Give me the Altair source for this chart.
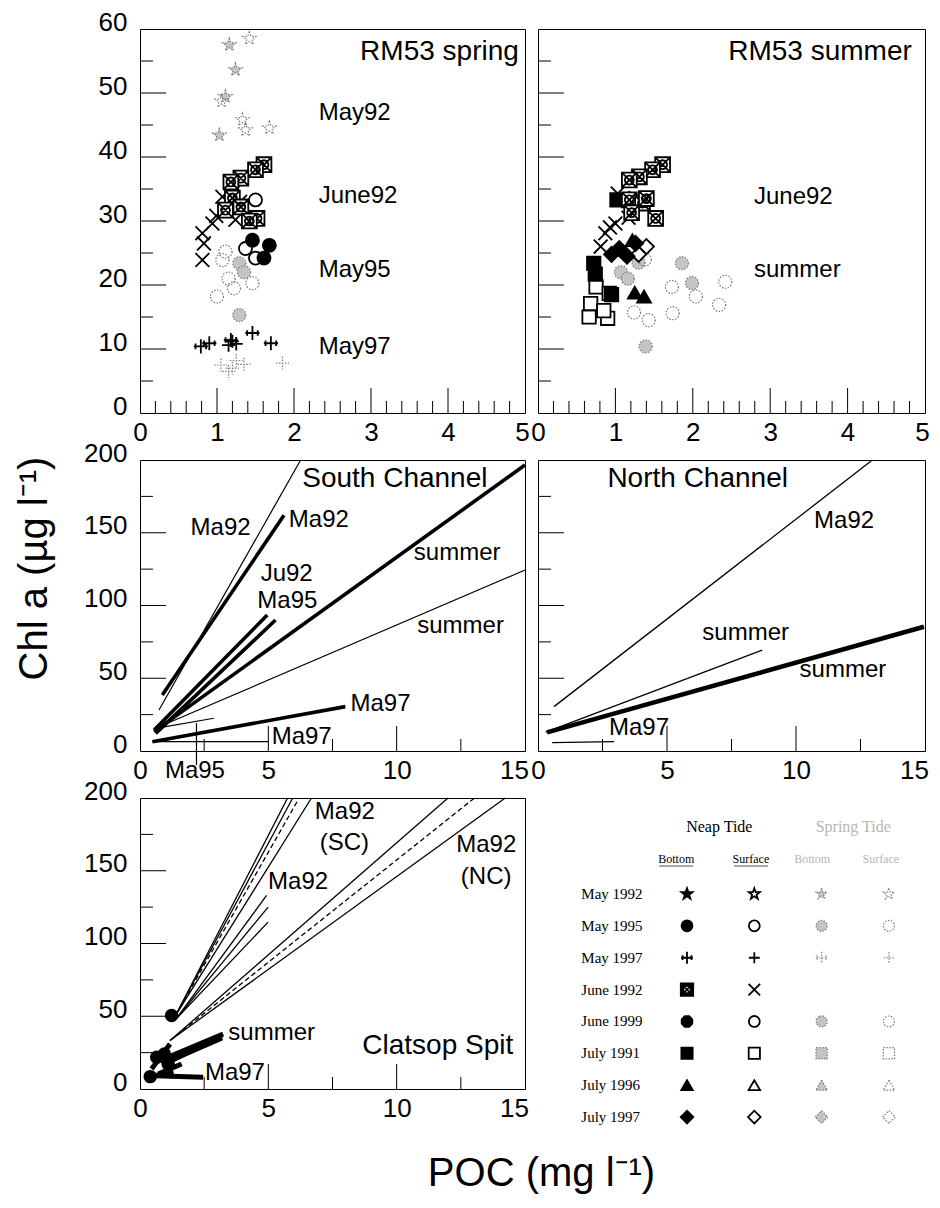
import altair as alt
import pandas as pd

FONT = "Liberation Sans"
SERIF = "Liberation Serif"

# ---------------- axes ----------------
TOP_X_DOMAIN = [0, 5]
TOP_Y_DOMAIN = [0, 60]
MID_X_DOMAIN = [0, 15]
MID_Y_DOMAIN = [0, 200]

TOP_X_LABELS = [0, 1, 2, 3, 4, 5]
TOP_Y_LABELS = [0, 10, 20, 30, 40, 50, 60]
MID_X_LABELS = [0, 5, 10, 15]
MID_Y_LABELS = [0, 50, 100, 150, 200]

TOP_X_MAJOR = [1, 2, 3, 4]
TOP_X_MINOR = [0.2, 0.4, 0.6, 0.8, 1.2, 1.4, 1.6, 1.8, 2.2, 2.4, 2.6, 2.8,
               3.2, 3.4, 3.6, 3.8, 4.2, 4.4, 4.6, 4.8]
TOP_Y_MAJOR = [10, 20, 30, 40, 50]
TOP_Y_MINOR = [5, 15, 25, 35, 45, 55]
MID_X_MAJOR = [5, 10]
MID_X_MINOR = [2.5, 7.5, 12.5]
MID_Y_MAJOR = [50, 100, 150]
MID_Y_MINOR = [25, 75, 125, 175]

# ---------------- RM53 spring (top-left) ----------------
SPR_JUN92_BOT = [(1.61, 38.8), (1.50, 38.0), (1.31, 36.7), (1.18, 36.1), (1.20, 33.6),
                 (1.31, 32.2), (1.11, 31.7), (1.52, 30.4), (1.42, 30.0)]
SPR_JUN92_SUR = [(0.81, 23.9), (0.83, 26.5), (0.81, 28.1), (0.94, 29.6), (0.99, 30.8),
                 (1.07, 33.8), (1.21, 34.5), (1.24, 30.2), (1.42, 29.9), (1.30, 33.0)]
SPR_MAY95_BOT = [(1.46, 27.0), (1.68, 26.2), (1.61, 24.2)]
SPR_MAY95_SUR = [(1.50, 33.3), (1.37, 25.7), (1.50, 24.2)]
SPR_MAY97_BOT = [(0.79, 10.4), (0.90, 10.9), (1.18, 11.4), (1.46, 12.5), (1.70, 10.9)]
SPR_MAY97_SUR = [(1.20, 11.2), (1.25, 10.8), (1.15, 10.6)]
SPR_MAY92_SPRING_BOT = [(1.16, 57.5), (1.24, 53.6), (1.11, 49.4), (1.03, 43.4)]
SPR_MAY92_SPRING_SUR = [(1.42, 58.5), (1.06, 48.7), (1.33, 45.8), (1.68, 44.5), (1.37, 44.2)]
SPR_MAY95_SPRING_BOT = [(1.29, 23.4), (1.29, 15.3), (1.35, 22.0)]
SPR_MAY95_SPRING_SUR = [(1.11, 25.2), (1.07, 23.9), (1.00, 18.2), (1.15, 21.0), (1.46, 20.3), (1.22, 19.5)]
SPR_MAY97_SPRING = [(1.05, 7.5), (1.15, 6.5), (1.25, 8.2), (1.35, 7.6), (1.20, 7.0), (1.85, 7.8)]

# ---------------- RM53 summer (top-right) ----------------
SUM_JUN92_BOT = [(1.61, 38.8), (1.48, 38.0), (1.31, 36.9), (1.18, 36.4), (1.18, 33.3),
                 (1.35, 32.8), (1.21, 31.3), (1.52, 30.4), (1.40, 33.5)]
SUM_JUN92_SUR = [(0.81, 26.0), (0.87, 28.1), (1.00, 29.6), (1.03, 34.3), (1.26, 33.6),
                 (1.17, 30.5), (0.93, 29.0)]
SUM_JUL91_BOT = [(1.02, 33.3), (0.72, 23.4), (0.74, 21.7), (0.95, 18.5)]
SUM_JUL91_SUR = [(0.66, 15.0), (0.90, 14.8), (0.75, 19.7), (0.68, 17.1), (0.92, 18.7), (0.85, 16.0)]
SUM_JUL97_BOT = [(1.05, 25.7), (1.26, 26.5), (1.15, 24.5), (0.95, 24.8)]
SUM_JUL97_SUR = [(1.40, 26.0), (1.30, 24.8)]
SUM_JUL96_BOT = [(1.22, 27.0), (1.37, 18.2), (1.25, 18.8)]
SUM_SPRING_BOT = [(1.07, 22.0), (1.16, 21.0), (1.30, 23.5), (1.86, 23.4), (1.99, 20.3), (1.39, 10.4)]
SUM_SPRING_SUR = [(2.42, 20.5), (1.73, 19.7), (1.74, 15.6), (1.43, 14.5), (1.24, 15.7),
                  (2.34, 16.9), (2.04, 18.2), (1.38, 24.0)]

# ---------------- regression segments (x1, y1, x2, y2) ----------------
SC_THICK = [(0.87, 38.5, 5.61, 162.0), (0.55, 14.4, 4.96, 93.5), (0.61, 12.1, 5.28, 90.0),
            (0.55, 13.3, 15.0, 196.6), (0.48, 6.4, 8.0, 30.5)]
SC_THIN = [(0.74, 28.2, 6.26, 200.0), (0.61, 15.6, 15.0, 124.4), (0.61, 15.6, 2.88, 22.5),
           (0.55, 6.5, 5.0, 6.5), (2.2, 19.2, 2.2, -9.6)]
NC_THIN = [(0.62, 30.5, 12.96, 200.0), (0.30, 13.0, 8.69, 69.4), (0.55, 5.7, 2.95, 6.4)]
NC_THICK = [(0.35, 12.8, 14.96, 85.4)]
CS_THIN = [(1.40, 51.0, 5.75, 200.0), (1.40, 51.0, 5.95, 200.0), (1.40, 51.0, 6.68, 200.0),
           (1.17, 33.3, 12.0, 200.0), (1.17, 33.3, 14.23, 200.0),
           (1.40, 48.0, 4.93, 133.0), (1.40, 48.0, 4.99, 125.0), (1.40, 48.0, 4.99, 114.7)]
CS_DASHED = [(1.40, 51.0, 6.2, 200.0), (1.17, 33.3, 13.03, 200.0)]
CS_THICK = [(0.78, 19.5, 3.24, 37.8), (0.85, 17.0, 3.20, 35.0), (1.23, 19.5, 3.18, 36.7),
            (0.26, 9.2, 2.46, 8.0), (0.45, 13.8, 1.17, 31.0), (0.71, 10.3, 1.62, 17.2),
            (0.30, 8.0, 1.30, 12.0)]
CS_BLOBS = [(1.23, 50.5), (0.65, 21.8), (1.10, 17.2), (0.95, 24.0), (0.40, 8.5)]

# ---------------- labels (x, y, text) ----------------
TL_TITLE = [(4.92, 55.2, "RM53 spring")]
TL_LABELS = [(2.32, 45.8, "May92"), (2.32, 32.8, "June92"), (2.32, 21.3, "May95"), (2.32, 9.2, "May97")]
TR_TITLE = [(4.83, 55.2, "RM53 summer")]
TR_LABELS = [(2.79, 32.7, "June92"), (2.79, 21.3, "summer")]
SC_TITLE = [(6.32, 181.6, "South Channel")]
SC_LABELS = [(1.97, 148.5, "Ma92"), (5.8, 153.7, "Ma92"), (4.7, 117.0, "Ju92"), (4.57, 98.0, "Ma95"),
             (10.67, 131.3, "summer"), (10.8, 80.9, "summer"), (8.2, 27.7, "Ma97"),
             (5.13, 4.8, "Ma97"), (0.97, -18.8, "Ma95")]
NC_TITLE = [(2.69, 181.6, "North Channel")]
NC_LABELS = [(10.7, 153.0, "Ma92"), (6.37, 76.3, "summer"), (10.14, 50.6, "summer"), (2.75, 11.0, "Ma97")]
CS_TITLE = [(8.66, 24.1, "Clatsop Spit")]
CS_LABELS = [(6.81, 185.8, "Ma92"), (7.0, 164.0, "(SC)"), (12.32, 162.9, "Ma92"), (12.5, 141.0, "(NC)"),
             (4.99, 137.6, "Ma92"), (3.44, 33.7, "summer"), (2.53, 6.2, "Ma97")]

# ---------------- symbol legend ----------------
LEG_ROWS = ["May 1992", "May 1995", "May 1997", "June 1992", "June 1999", "July 1991", "July 1996", "July 1997"]
LEG_BOTTOM = ["star", "circ", "xplus", "xsq", "oct", "sq", "tri", "dia"]
LEG_SURFACE = ["star", "circ", "plus", "x", "circ", "sq", "tri", "dia"]
LEG_HAS_SPRING = [True, True, True, False, True, True, True, True]
LEG_HEAD = [(1.48, -2.1, "Neap Tide")]
LEG_HEAD_SPRING = [(3.47, -2.1, "Spring Tide")]
LEG_SUB = [(0.84, -1.1, "Bottom"), (1.95, -1.1, "Surface")]
LEG_SUB_SPRING = [(2.86, -1.1, "Bottom"), (3.88, -1.1, "Surface")]
LEG_COLS = [-0.57, 1, 2, 3, 4]

# ---------------- symbol styles ----------------
STAR = ("M0,-1L0.235,-0.324L0.951,-0.309L0.38,0.124L0.588,0.809L0,0.4L-0.588,0.809"
        "L-0.38,0.124L-0.951,-0.309L-0.235,-0.324Z")
XSQ = ("M-1,-1L1,-1L1,1L-1,1Z M-1,-1L1,1 M1,-1L-1,1 "
       "M0.6,0A0.6,0.6 0 1,0 -0.6,0A0.6,0.6 0 1,0 0.6,0")
XPLUS = "M-1,0L1,0 M0,-1L0,1 M-0.75,-0.4L-0.75,0.4 M0.75,-0.4L0.75,0.4"
PLUS = "M-1,0L1,0 M0,-1L0,1"
XMARK = "M-1,-1L1,1 M1,-1L-1,1"
OCT = "M-0.41,-1L0.41,-1L1,-0.41L1,0.41L0.41,1L-0.41,1L-1,0.41L-1,-0.41Z"

SHAPES = {"star": (STAR, 190), "circ": ("circle", 170), "xplus": (XPLUS, 200), "plus": (PLUS, 170),
          "xsq": (XSQ, 220), "x": (XMARK, 190), "oct": (OCT, 160), "sq": ("square", 180),
          "tri": ("triangle-up", 190), "dia": ("diamond", 230)}


def recs(pairs, shape, filled, k=1.0):
    path, size = SHAPES[shape]
    return [{"x": p[0], "y": p[1], "shape": path, "size": size * k,
             "fill": "black" if filled else "white"} for p in pairs]


def grecs(pairs, shape, filled, k=1.0):
    path, size = SHAPES[shape]
    return [{"x": p[0], "y": p[1], "shape": path, "size": size * k,
             "fill": "#c4c4c4" if filled else "transparent"} for p in pairs]


def sc(dom, reverse=False):
    if reverse:
        return alt.Scale(domain=dom, nice=False, zero=False, reverse=True)
    return alt.Scale(domain=dom, nice=False, zero=False)


class Panel:
    def __init__(self, xs, ys, xaxis, yaxis):
        self.xs, self.ys, self.xa, self.ya = xs, ys, xaxis, yaxis

    def X(self, f):
        if self.xa is None:
            return alt.X(f, type="quantitative", scale=self.xs, axis=None)
        return alt.X(f, type="quantitative", scale=self.xs, axis=self.xa, title=self.xa.title)

    def Y(self, f):
        if self.ya is None:
            return alt.Y(f, type="quantitative", scale=self.ys, axis=None)
        return alt.Y(f, type="quantitative", scale=self.ys, axis=self.ya, title=self.ya.title)

    def pts(self, rows, gray=False):
        df = pd.DataFrame(rows)
        if gray:
            mk = alt.Chart(df).mark_point(opacity=1, stroke="#7a7a7a", strokeWidth=1.2, strokeDash=[1.5, 1.5])
        else:
            mk = alt.Chart(df).mark_point(opacity=1, stroke="black", strokeWidth=1.8)
        return mk.encode(x=self.X("x"), y=self.Y("y"), shape=alt.Shape("shape:N", scale=None),
                         fill=alt.Fill("fill:N", scale=None), size=alt.Size("size:Q", scale=None))

    def segs(self, segs, width, dash=None):
        df = pd.DataFrame(segs, columns=["x1", "y1", "x2", "y2"])
        if dash:
            mk = alt.Chart(df).mark_rule(color="black", strokeWidth=width, strokeDash=dash)
        else:
            mk = alt.Chart(df).mark_rule(color="black", strokeWidth=width)
        return mk.encode(x=self.X("x1"), y=self.Y("y1"), x2="x2:Q", y2="y2:Q")

    def txt(self, items, size=24, align="left", font=FONT, color="black", baseline="alphabetic"):
        df = pd.DataFrame(items, columns=["x", "y", "t"])
        return alt.Chart(df).mark_text(align=align, baseline=baseline, fontSize=size, font=font,
                                       color=color).encode(x=self.X("x"), y=self.Y("y"), text="t:N")

    def ticks(self, h, xmaj, xmin, ymaj, ymin):
        l1 = alt.Chart(pd.DataFrame({"y": ymaj})).mark_rule(color="black", strokeWidth=1).encode(
            y=self.Y("y"), x=alt.value(0), x2=alt.value(26))
        l2 = alt.Chart(pd.DataFrame({"y": ymin})).mark_rule(color="black", strokeWidth=1).encode(
            y=self.Y("y"), x=alt.value(0), x2=alt.value(13))
        l3 = alt.Chart(pd.DataFrame({"x": xmaj})).mark_rule(color="black", strokeWidth=1).encode(
            x=self.X("x"), y=alt.value(h), y2=alt.value(h - 25))
        l4 = alt.Chart(pd.DataFrame({"x": xmin})).mark_rule(color="black", strokeWidth=1).encode(
            x=self.X("x"), y=alt.value(h), y2=alt.value(h - 12))
        return [l1, l2, l3, l4]


def xaxis(values, **kw):
    kw.setdefault("title", "")
    return alt.Axis(values=values, **kw)


def yaxis(values, show=True, **kw):
    kw.setdefault("title", "")
    if not show:
        kw["labels"] = False
    return alt.Axis(values=values, **kw)


SHIFT15 = {"condition": {"test": "datum.value == 15", "value": -11}, "value": 0}
SHIFT5 = {"condition": {"test": "datum.value == 5", "value": -3}, "value": 0}

W, W2, H, HM = 385, 387, 384, 291

# ---------- top-left ----------
p = Panel(sc(TOP_X_DOMAIN), sc(TOP_Y_DOMAIN), xaxis(TOP_X_LABELS, labelOffset=SHIFT5), yaxis(TOP_Y_LABELS))
tl = alt.layer(
    *p.ticks(H, TOP_X_MAJOR, TOP_X_MINOR, TOP_Y_MAJOR, TOP_Y_MINOR),
    p.pts(grecs(SPR_MAY92_SPRING_BOT, "star", True) + grecs(SPR_MAY92_SPRING_SUR, "star", False)
          + grecs(SPR_MAY95_SPRING_BOT, "circ", True) + grecs(SPR_MAY95_SPRING_SUR, "circ", False)
          + grecs(SPR_MAY97_SPRING, "plus", False), gray=True),
    p.pts(recs(SPR_JUN92_SUR, "x", False) + recs(SPR_JUN92_BOT, "xsq", False)
          + recs(SPR_MAY95_SUR, "circ", False) + recs(SPR_MAY95_BOT, "circ", True)
          + recs(SPR_MAY97_BOT, "xplus", True) + recs(SPR_MAY97_SUR, "plus", False)),
    p.txt(TL_TITLE, size=28, align="right"),
    p.txt(TL_LABELS, size=24),
).properties(width=W, height=H)

# ---------- top-right ----------
p = Panel(sc(TOP_X_DOMAIN), sc(TOP_Y_DOMAIN), xaxis(TOP_X_LABELS, labelOffset=SHIFT5),
          yaxis(TOP_Y_LABELS, show=False))
tr = alt.layer(
    *p.ticks(H, TOP_X_MAJOR, TOP_X_MINOR, TOP_Y_MAJOR, TOP_Y_MINOR),
    p.pts(grecs(SUM_SPRING_BOT, "circ", True) + grecs(SUM_SPRING_SUR, "circ", False), gray=True),
    p.pts(recs(SUM_JUL91_SUR, "sq", False) + recs(SUM_JUL91_BOT, "sq", True)
          + recs(SUM_JUL96_BOT, "tri", True) + recs(SUM_JUL97_SUR, "dia", False)
          + recs(SUM_JUL97_BOT, "dia", True) + recs(SUM_JUN92_SUR, "x", False)
          + recs(SUM_JUN92_BOT, "xsq", False)),
    p.txt(TR_TITLE, size=28, align="right"),
    p.txt(TR_LABELS, size=24),
).properties(width=W2, height=H)

# ---------- middle-left (South Channel) ----------
p = Panel(sc(MID_X_DOMAIN), sc(MID_Y_DOMAIN), xaxis(MID_X_LABELS, labelOffset=SHIFT15),
          yaxis(MID_Y_LABELS, title="Chl a (\u00b5g l\u207b\u00b9)", titleFontSize=40, titleAngle=270,
                titleX=-86, titleY=108, titleBaseline="bottom", titleAlign="center"))
ml = alt.layer(
    *p.ticks(HM, MID_X_MAJOR, MID_X_MINOR, MID_Y_MAJOR, MID_Y_MINOR),
    p.segs(SC_THIN, 1.2),
    p.segs(SC_THICK, 3.6),
    p.txt(SC_TITLE, size=28),
    p.txt(SC_LABELS, size=24),
).properties(width=W, height=HM)

# ---------- middle-right (North Channel) ----------
p = Panel(sc(MID_X_DOMAIN), sc(MID_Y_DOMAIN), xaxis(MID_X_LABELS, labelOffset=SHIFT15),
          yaxis(MID_Y_LABELS, show=False))
mr = alt.layer(
    *p.ticks(HM, MID_X_MAJOR, MID_X_MINOR, MID_Y_MAJOR, MID_Y_MINOR),
    p.segs(NC_THIN, 1.3),
    p.segs(NC_THICK, 4.5),
    p.txt(NC_TITLE, size=28),
    p.txt(NC_LABELS, size=24),
).properties(width=W2, height=HM)

# ---------- bottom-left (Clatsop Spit) ----------
p = Panel(sc(MID_X_DOMAIN), sc(MID_Y_DOMAIN),
          xaxis(MID_X_LABELS, labelOffset=SHIFT15, title="POC (mg l\u207b\u00b9)", titleFontSize=40,
                titleX=401, titleY=96, titleBaseline="alphabetic", titleAlign="center"),
          yaxis(MID_Y_LABELS))
bl = alt.layer(
    *p.ticks(HM, MID_X_MAJOR, MID_X_MINOR, MID_Y_MAJOR, MID_Y_MINOR),
    p.segs(CS_THIN, 1.3),
    p.segs(CS_DASHED, 1.3, dash=[5, 3]),
    p.segs(CS_THICK, 5),
    p.pts(recs(CS_BLOBS, "circ", True, k=0.8)),
    p.txt(CS_TITLE, size=28),
    p.txt(CS_LABELS, size=24),
).properties(width=W, height=HM)

# ---------- legend panel ----------
p = Panel(sc([-1.214, 4.536]), sc([-3.013, 6.12], reverse=True), None, None)
leg_neap, leg_spring = [], []
for i, name in enumerate(LEG_ROWS):
    leg_neap += recs([(LEG_COLS[1], i)], LEG_BOTTOM[i], True, k=0.7)
    leg_neap += recs([(LEG_COLS[2], i)], LEG_SURFACE[i], False, k=0.7)
    if LEG_HAS_SPRING[i]:
        leg_spring += grecs([(LEG_COLS[3], i)], LEG_BOTTOM[i], True, k=0.7)
        leg_spring += grecs([(LEG_COLS[4], i)], LEG_SURFACE[i], False, k=0.7)
leg_names = [(LEG_COLS[0], i, n) for i, n in enumerate(LEG_ROWS)]
underline = pd.DataFrame({"x": [q[0] for q in LEG_SUB], "y": [q[1] for q in LEG_SUB]})
leg = alt.layer(
    p.txt(LEG_HEAD, size=16, align="center", font=SERIF, baseline="middle"),
    p.txt(LEG_HEAD_SPRING, size=16, align="center", font=SERIF, color="#b5b5b5", baseline="middle"),
    p.txt(LEG_SUB, size=12, align="center", font=SERIF, baseline="middle"),
    p.txt(LEG_SUB_SPRING, size=12, align="center", font=SERIF, color="#b5b5b5", baseline="middle"),
    alt.Chart(underline).mark_tick(color="black", thickness=1, size=34, orient="horizontal", yOffset=7).encode(
        x=p.X("x"), y=p.Y("y")),
    p.txt(leg_names, size=15, align="left", font=SERIF, baseline="middle"),
    p.pts(leg_spring, gray=True),
    p.pts(leg_neap),
).properties(width=W2, height=HM, view=alt.ViewBackground(stroke="transparent"))

chart = alt.concat(tl, tr, ml, mr, bl, leg, columns=2, spacing={"row": 47, "column": 13},
                   bounds="flush").properties(
    padding={"left": 5, "top": 0, "right": 0, "bottom": 0}
).configure_view(stroke="black", strokeWidth=1).configure_axis(
    domain=False, ticks=False, grid=False, labelFont=FONT, labelFontSize=26, labelColor="black",
    labelFlush=False, labelOverlap=False, titleFont=FONT, titleColor="black", titleFontWeight="normal"
).configure_axisX(labelPadding=6).configure_axisY(labelPadding=13, labelOffset=-7)

chart.save("out.html", embed_options={"renderer": "svg", "actions": False})
